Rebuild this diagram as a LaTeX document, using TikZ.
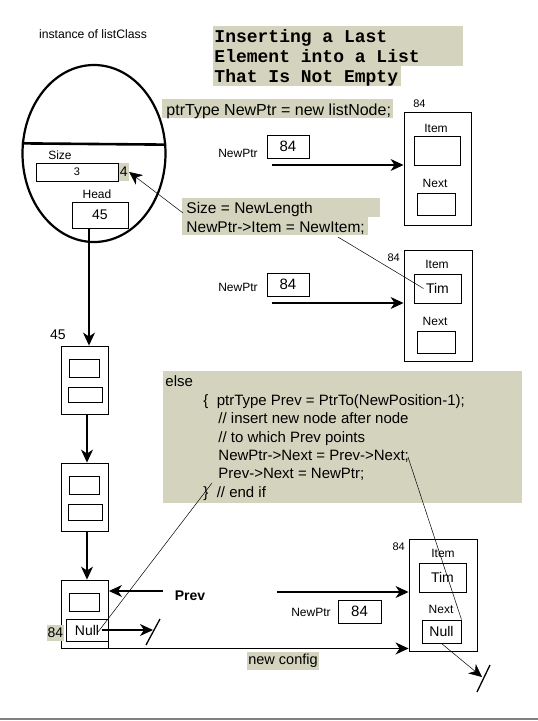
\documentclass[tikz,border=0pt]{standalone}
\usepackage{fontspec}
\setmainfont{Liberation Sans}
\newfontfamily\titlefont{Liberation Mono}
\usetikzlibrary{arrows.meta,shapes.geometric,positioning}
\definecolor{beige}{RGB}{212,212,190}

\begin{document}
\begin{tikzpicture}[x=1pt, y=-1pt, line width=0.9pt,
		fs/.style={font=\fontsize{#1}{#1}\selectfont},
		box/.style 2 args={draw, inner sep=0pt, minimum width=#1, minimum height=#2},
		hl/.style={fill=beige, inner sep=1pt},
		arr/.style={line width=1.1pt, -{Stealth[length=13pt, width=12pt, inset=4pt]}},
		fine/.style={line width=0.5pt}]
							\useasboundingbox (0,0) rectangle (538,721);
							% 标题(底色)
							\fill[beige] (213,26) rectangle (463,66);
							\fill[beige] (213,66) rectangle (401,86);
							\node[fs=18, anchor=base west, inner sep=0pt] (t1) at (214,42) {\titlefont\bfseries Inserting a Last};
							\node[fs=18, anchor=base west, inner sep=0pt] (t2) at (214,62) {\titlefont\bfseries Element into a List};
							\node[fs=18, anchor=base west, inner sep=0pt] (t3) at (214,82) {\titlefont\bfseries That Is Not Empty};
							
							% 对象 listClass
							\node[fs=12.2] (inst) at (93,34) {instance of listClass};
							\node[draw, ellipse, line width=2.2pt, minimum width=143pt, minimum height=177pt, inner sep=0pt] (obj) at (94,153.5) {};
							\draw[line width=2.6pt] (obj.172.5) -- (obj.7.5);
							\node[fs=12] (sizel) at (60,155) {Size};
							\node[box={82pt}{18pt}, fs=11] (size) at (77,172) {3};
							\node[hl, fs=14, anchor=west, minimum height=18pt] (four) at (size.east) {4};
							\node[fs=12] (headl) at (97,194) {Head};
							\node[box={56pt}{26pt}, fs=14] (head) at (100,215) {45};
							
							% 链表结点
							\node[fs=14] (l45) at (58,335) {45};
							\foreach \n/\y in {A/380,B/497,C/614}{
								\node[box={47pt}{68pt}] (n\n) at (85,\y) {};
								\node[box={30pt}{18pt}] (i\n) at (84,\y-12) {};
							}
							\node[box={34pt}{15pt}] (xA) at (85,394.5) {};
							\node[box={34pt}{16pt}] (xB) at (85,512) {};
							\node[box={42pt}{22pt}, fs=14] (nullA) at (87,630) {Null};
							\node[hl, fs=14, minimum height=16pt] (l84) at (55.5,633) {84};
							\draw[arr] ([xshift=-11pt]head.south) -- ([xshift=-11pt]head.south |- nA.north);
							\draw[arr] ([xshift=2pt]nA.south) -- ([xshift=2pt]nB.north);
							\draw[arr] ([xshift=2pt]nB.south) -- ([xshift=2pt]nC.north);
							
							% Prev 与 Null
							\coordinate (prevS) at (163,591);
							\node[fs=14, anchor=west] (prevl) at (171,596) {\bfseries Prev};
							\draw[arr] (prevS) -- (prevS -| nC.east);
							\coordinate (cut1) at (153,630);
							\draw[arr] ([xshift=-6pt]nullA.east) -- (cut1);
							\coordinate (s1a) at (146,645);
							\coordinate (s1b) at (160,619);
							\draw[line width=1.3pt] (s1a) -- (s1b);
							
							% 第一步: new listNode
							\fill[beige] (162,99) rectangle (393,118);
							\node[fs=16, anchor=base west, inner sep=0pt] (code1) at (166,115) {ptrType NewPtr = new listNode;};
							\node[fs=12] (np1) at (238,153) {NewPtr};
							\node[box={42pt}{23pt}, fs=15] (p1) at (288,146.5) {84};
							\node[box={67pt}{113pt}] (new1) at (437.5,168.5) {};
							\node[fs=11, anchor=south west] (a84a) at ([xshift=6pt]new1.north west) {84};
							\node[fs=12] (it1l) at (436,128) {Item};
							\node[box={46pt}{29pt}] (it1) at (437,150.5) {};
							\node[fs=12] (nx1l) at (435,183) {Next};
							\node[box={38pt}{22pt}] (nx1) at (436,204) {};
							\coordinate (a1) at (272,165);
							\draw[arr] (a1) -- (a1 -| new1.west);
							
							% 第二步: Size, Item
							\fill[beige] (182,198) rectangle (380,217);
							\fill[beige] (182,217) rectangle (368,235);
							\node[fs=15.5, anchor=base west, inner sep=0pt] (code2) at (186,213) {Size = NewLength};
							\node[fs=15.5, anchor=base west, inner sep=0pt] (code3) at (186,232) {NewPtr->Item = NewItem;};
							\draw[fine, -{Stealth[length=13pt, width=12pt, inset=4pt]}] (code2.west) ++(-3pt,-4pt) coordinate (c2s) -- (four.east);
							\node[fs=12] (np2) at (238,287) {NewPtr};
							\node[box={42pt}{23pt}, fs=15] (p2) at (288,284.5) {84};
							\node[box={68pt}{111pt}] (new2) at (438,305.5) {};
							\node[fs=11, anchor=north east] (a84b) at (new2.north west) {84};
							\node[fs=12] (it2l) at (437,264) {Item};
							\node[box={47pt}{29pt}, fs=14] (it2) at (437.5,288.5) {Tim};
							\node[fs=12] (nx2l) at (435,321) {Next};
							\node[box={38pt}{22pt}] (nx2) at (436,342) {};
							\coordinate (a2) at (272,303);
							\draw[arr] (a2) -- (a2 -| new2.west);
							\coordinate (c3e) at (338,237);
							\draw[fine] (c3e) -- ([xshift=-14pt]it2.center);
							
							% 第三步: else 分支
							\fill[beige] (163,371) rectangle (522,503);
							\node[fs=15, anchor=base west, inner sep=0pt] (e0) at (165,386) {else};
							\node[fs=15, anchor=base west, inner sep=0pt] (e1) at (203,405) {\{~~ptrType Prev = PtrTo(NewPosition-1);};
							\node[fs=15, anchor=base west, inner sep=0pt] (e2) at (218,423) {// insert new node after node};
							\node[fs=15, anchor=base west, inner sep=0pt] (e3) at (218,442) {// to which Prev points};
							\node[fs=15, anchor=base west, inner sep=0pt] (e4) at (218,460) {NewPtr->Next = Prev->Next;};
							\node[fs=15, anchor=base west, inner sep=0pt] (e5) at (218,478) {Prev->Next = NewPtr;};
							\node[fs=15, anchor=base west, inner sep=0pt] (e6) at (203,497) {\}~~// end if};
							
							% 新结点
							\node[box={68pt}{112pt}] (new3) at (443,595) {};
							\node[fs=11, anchor=north east] (a84c) at (new3.north west) {84};
							\node[fs=12] (it3l) at (443,553) {Item};
							\node[box={47pt}{29pt}, fs=14] (it3) at (442.5,577.5) {Tim};
							\node[fs=12] (nx3l) at (441,609) {Next};
							\node[box={39pt}{23pt}, fs=14] (null3) at (441.5,631.5) {Null};
							\node[fs=12] (np3) at (311,612) {NewPtr};
							\node[box={43pt}{23pt}, fs=15] (p3) at (359.5,611.5) {84};
							\coordinate (a3) at (277,592);
							\draw[arr] (a3) -- (a3 -| new3.west);
							\draw[arr] (nC.south east) -- (nC.south east -| new3.west);
							\node[hl, fs=14.5, minimum height=18pt] (cfg) at (283,661) {new config};
							\coordinate (cut2) at (482,677);
							\draw[fine, -{Stealth[length=13pt, width=12pt, inset=4pt]}] (null3.south) -- (cut2);
							\coordinate (s2a) at (477,692);
							\coordinate (s2b) at (490,665);
							\draw[line width=1.3pt] (s2a) -- (s2b);
							
							% 细线
							\coordinate (endif) at (212,483);
							\draw[fine] (endif) -- ([xshift=11pt,yshift=-2pt]nullA.center);
							\coordinate (nxt) at (408,457);
							\draw[fine] (nxt) -- (null3.north east);
							
							% 底线
							\draw[gray, line width=1.5pt] (0,719) -- (538,719);
						\end{tikzpicture}
\end{document}
